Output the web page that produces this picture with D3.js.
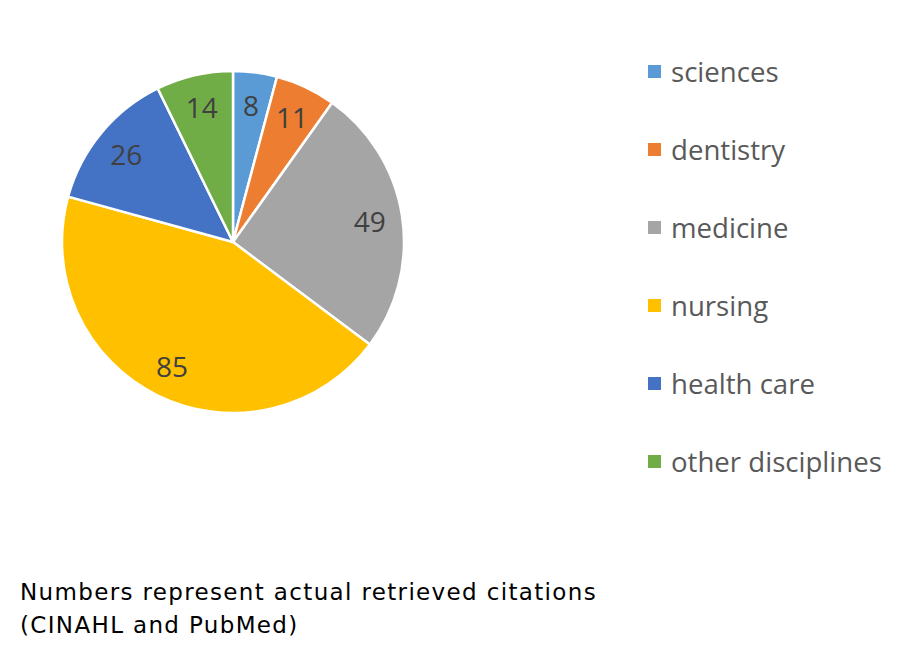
<!DOCTYPE html>
<html>
<head>
<meta charset="utf-8">
<script src="https://cdn.jsdelivr.net/npm/d3@7"></script>
<style>
  html, body { margin: 0; padding: 0; background: #fff; }
  svg { display: block; }
</style>
</head>
<body>
<svg id="chart" width="900" height="646"></svg>
<script>
const categories = ["sciences", "dentistry", "medicine", "nursing", "health care", "other disciplines"];
const values = [8, 11, 49, 85, 26, 14];
const colors = ["#5B9BD5", "#ED7D31", "#A5A5A5", "#FFC000", "#4472C4", "#70AD47"];
const captionLines = ["Numbers represent actual retrieved citations", "(CINAHL and PubMed)"];

const svg = d3.select("#chart");
const cx = 233, cy = 242, r = 171;

const data = categories.map((c, i) => ({ name: c, value: values[i], color: colors[i] }));
const pie = d3.pie().sort(null).value(d => d.value);
const arcs = pie(data);
const arc = d3.arc().innerRadius(0).outerRadius(r);
const labelArc = d3.arc().innerRadius(r * 0.81).outerRadius(r * 0.81);

const g = svg.append("g").attr("transform", `translate(${cx},${cy})`);
g.selectAll("path.slice").data(arcs).join("path")
  .attr("class", "slice")
  .attr("d", arc)
  .attr("fill", d => d.data.color)
  .attr("stroke", "#fff")
  .attr("stroke-width", 2.5)
  .attr("stroke-linejoin", "round");

g.selectAll("text.lbl").data(arcs).join("text")
  .attr("class", "lbl")
  .attr("transform", d => `translate(${labelArc.centroid(d)})`)
  .attr("text-anchor", "middle")
  .attr("dominant-baseline", "central")
  .attr("font-family", "'Open Sans', sans-serif")
  .attr("font-size", 28)
  .attr("fill", "#404040")
  .text(d => d.data.value);

// Legend
const legendY = d3.scalePoint().domain(categories).range([82, 472]);
const lg = svg.append("g");
const items = lg.selectAll("g.item").data(data).join("g").attr("class", "item")
  .attr("transform", d => `translate(0,${legendY(d.name)})`);
items.append("rect")
  .attr("x", 648).attr("y", -17).attr("width", 13).attr("height", 13)
  .attr("fill", d => d.color);
items.append("text")
  .attr("x", 671).attr("y", 0)
  .attr("font-family", "'Open Sans', sans-serif")
  .attr("font-size", 27.6)
  .attr("fill", "#595959")
  .text(d => d.name);

// Caption
svg.append("g").selectAll("text").data(captionLines).join("text")
  .attr("x", 20)
  .attr("y", (d, i) => 600 + i * 33)
  .attr("font-family", "'DejaVu Sans', sans-serif")
  .attr("font-size", 23)
  .attr("letter-spacing", 1.35)
  .attr("fill", "#000")
  .text(d => d);
</script>
</body>
</html>
